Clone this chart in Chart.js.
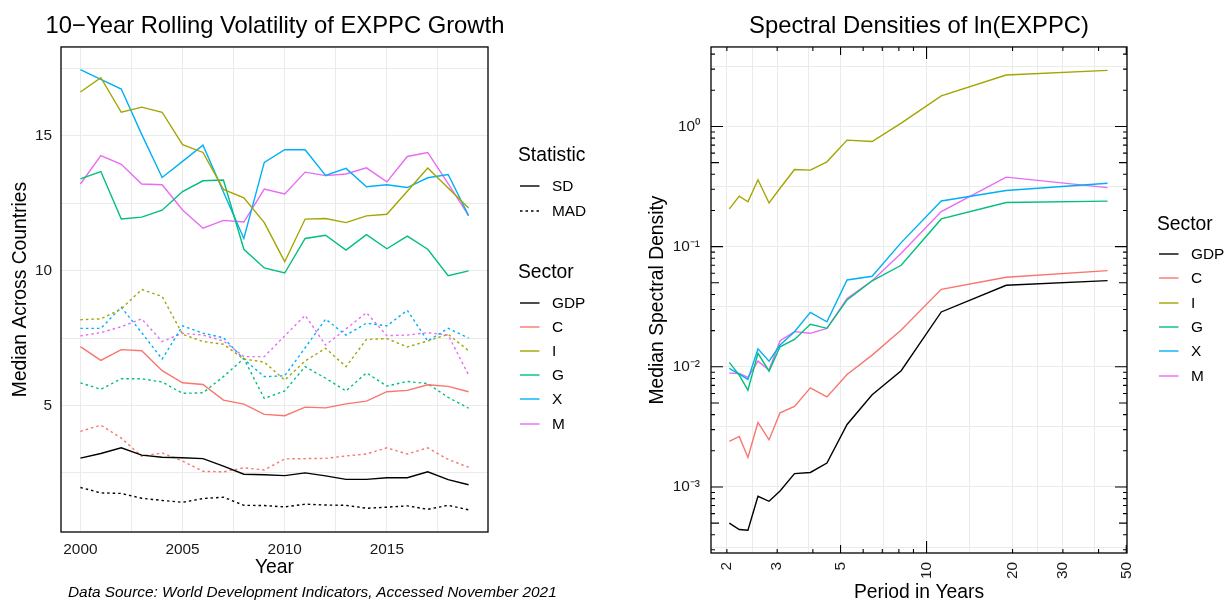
<!DOCTYPE html>
<html>
<head>
<meta charset="utf-8">
<title>EXPPC volatility and spectral densities</title>
<script src="https://cdn.jsdelivr.net/npm/chart.js@4.4.1/dist/chart.umd.min.js"></script>
<style>
  html, body { margin: 0; padding: 0; background: #fff; }
  #wrap { position: relative; width: 1224px; height: 602px; overflow: hidden;
          font-family: 'Liberation Sans', Arial, sans-serif; color: #000; }
  canvas { position: absolute; top: 0; }
  #volChart { left: 0; }
  #specChart { left: 620px; }
  .lg-title { position: absolute; font-size: 19.3px; height: 24px; line-height: 24px; white-space: nowrap; }
  .lg-item { position: absolute; height: 20px; line-height: 20px; font-size: 15.4px; white-space: nowrap; }
  .lg-item svg { position: absolute; left: 0; top: 0; }
  .lg-item span { position: absolute; top: 0; }
  #caption { position: absolute; left: 68px; top: 584px; font-size: 15.4px; line-height: 15.4px;
             font-style: italic; white-space: nowrap; }
</style>
</head>
<body>
<div id="wrap">
  <canvas id="volChart" width="550" height="602"></canvas>
  <canvas id="specChart" width="598" height="602"></canvas>
  <div id="volLegend"></div>
  <div id="specLegend"></div>
  <div id="caption">Data Source: World Development Indicators, Accessed November 2021</div>
</div>
<script>
const FONT = "'Liberation Sans', Arial, sans-serif";
Chart.defaults.font.family = FONT;
Chart.defaults.color = '#000';

// ---- rolling volatility (median across countries) ----
const years = [2000, 2001, 2002, 2003, 2004, 2005, 2006, 2007, 2008, 2009,
               2010, 2011, 2012, 2013, 2014, 2015, 2016, 2017, 2018, 2019];

const sdGDP = [3.05, 3.22, 3.43, 3.16, 3.08, 3.06, 3.03, 2.75, 2.45, 2.43, 2.40, 2.50, 2.39, 2.26, 2.26, 2.32, 2.32, 2.54, 2.25, 2.06];
const sdC   = [7.18, 6.67, 7.07, 7.03, 6.29, 5.84, 5.78, 5.20, 5.05, 4.67, 4.62, 4.94, 4.91, 5.06, 5.16, 5.51, 5.56, 5.77, 5.71, 5.51];
const sdI   = [16.62, 17.15, 15.87, 16.06, 15.87, 14.67, 14.38, 13.01, 12.70, 11.78, 10.33, 11.91, 11.93, 11.78, 12.03, 12.09, 12.94, 13.80, 13.06, 12.32];
const sdG   = [13.40, 13.67, 11.91, 11.98, 12.24, 12.93, 13.33, 13.36, 10.79, 10.10, 9.91, 11.19, 11.31, 10.76, 11.33, 10.81, 11.28, 10.79, 9.81, 9.99];
const sdX   = [17.45, 17.09, 16.73, 15.05, 13.45, 14.05, 14.65, 12.91, 11.19, 14.01, 14.48, 14.48, 13.53, 13.79, 13.11, 13.18, 13.08, 13.44, 13.56, 12.04];
const sdM   = [13.21, 14.26, 13.94, 13.21, 13.18, 12.25, 11.57, 11.86, 11.80, 13.02, 12.84, 13.65, 13.52, 13.58, 13.81, 13.29, 14.23, 14.38, 13.22, 12.04];

const madGDP = [1.96, 1.76, 1.74, 1.56, 1.48, 1.41, 1.55, 1.60, 1.30, 1.29, 1.24, 1.34, 1.31, 1.30, 1.19, 1.23, 1.28, 1.15, 1.30, 1.13];
const madC   = [4.04, 4.27, 3.79, 3.12, 3.24, 2.94, 2.56, 2.54, 2.69, 2.61, 3.02, 3.03, 3.04, 3.13, 3.20, 3.43, 3.20, 3.43, 3.00, 2.71];
const madI   = [8.18, 8.21, 8.58, 9.30, 9.04, 7.64, 7.37, 7.27, 6.72, 6.61, 5.94, 6.65, 7.12, 6.44, 7.45, 7.48, 7.17, 7.39, 7.64, 7.03];
const madG   = [5.84, 5.60, 5.99, 5.99, 5.87, 5.45, 5.47, 6.07, 6.74, 5.26, 5.54, 6.44, 6.01, 5.54, 6.21, 5.72, 5.89, 5.81, 5.30, 4.90];
const madX   = [7.86, 7.86, 8.64, 7.70, 6.72, 7.95, 7.68, 7.51, 6.71, 6.07, 6.10, 7.14, 8.20, 7.61, 8.05, 7.95, 8.53, 7.39, 7.86, 7.50];
const madM   = [7.58, 7.70, 7.92, 8.21, 7.37, 7.68, 7.61, 7.39, 6.81, 6.81, 7.58, 8.34, 7.24, 7.84, 8.44, 7.59, 7.61, 7.70, 7.61, 6.13];

const yearTicks = [2000, 2005, 2010, 2015];
const volTicks = [5, 10, 15];

// ---- spectral densities of ln(EXPPC) ----
const periods = [2.04, 2.21, 2.37, 2.57, 2.81, 3.07, 3.45, 3.92, 4.48, 5.27, 6.45, 8.15, 11.26, 19.0, 43.0];

const specGDP = [0.000500, 0.000442, 0.000436, 0.000836, 0.000760, 0.000926, 0.00129, 0.00132, 0.00158, 0.00331, 0.00585, 0.00927, 0.0286, 0.0477, 0.0521];
const specC   = [0.00240, 0.00263, 0.00176, 0.00344, 0.00247, 0.00414, 0.00468, 0.00668, 0.00562, 0.00864, 0.0125, 0.0202, 0.0441, 0.0556, 0.0631];
const specI   = [0.206, 0.263, 0.236, 0.360, 0.231, 0.306, 0.438, 0.433, 0.508, 0.770, 0.750, 1.067, 1.80, 2.68, 2.93];
const specG   = [0.01088, 0.00853, 0.00640, 0.01294, 0.00920, 0.01468, 0.0169, 0.02256, 0.0209, 0.0360, 0.0520, 0.0700, 0.170, 0.233, 0.239];
const specX   = [0.00970, 0.00869, 0.00785, 0.01413, 0.01115, 0.01517, 0.0196, 0.0284, 0.0237, 0.0528, 0.0567, 0.108, 0.240, 0.293, 0.337];
const specM   = [0.00886, 0.00879, 0.00816, 0.01115, 0.00939, 0.0165, 0.0196, 0.0190, 0.0209, 0.0370, 0.0520, 0.0880, 0.196, 0.379, 0.310];

const periodTicks = [2, 3, 5, 10, 20, 30, 50];
const densityTicks = [0.001, 0.01, 0.1, 1];

const sectors = ['GDP', 'C', 'I', 'G', 'X', 'M'];
const statistics = ['SD', 'MAD'];

// styling
const sectorColors = ['#000000', '#F8766D', '#A3A500', '#00BF7D', '#00B0F6', '#E76BF3'];
const statDash = [[], [2.5, 3]];
const GRID = '#EBEBEB';
const TICK_FONT = { size: 15.4 };
const TITLE_FONT = { size: 19.3 };

function lineSet(label, xs, ys, color, dash) {
  return {
    label,
    data: xs.map((x, i) => ({ x, y: ys[i] })),
    xAxisID: 'x',
    yAxisID: 'y',
    borderColor: color,
    backgroundColor: color,
    borderWidth: 1.4,
    borderDash: dash,
    pointRadius: 0,
    tension: 0,
    fill: false
  };
}

// ggplot-style minor breaks: halfway between majors (linear) or geometric midpoints (log)
function linearBreaks(majors, min, max) {
  const step = majors[1] - majors[0];
  const all = majors.slice();
  majors.forEach(v => { all.push(v - step / 2); all.push(v + step / 2); });
  return [...new Set(all)].filter(v => v >= min && v <= max).sort((a, b) => a - b);
}
function logBreaks(majors, min, max, outerRatio) {
  const all = majors.slice();
  for (let i = 0; i < majors.length - 1; i++) all.push(Math.sqrt(majors[i] * majors[i + 1]));
  if (outerRatio) {
    all.push(majors[0] / outerRatio);
    all.push(majors[majors.length - 1] * outerRatio);
  }
  return all.filter(v => v >= min && v <= max).sort((a, b) => a - b);
}
const isIn = (list, v) => list.some(t => Math.abs(t - v) < 1e-9 * Math.max(1, Math.abs(t)));

const SUP = { '-': '\u207B', '0': '\u2070', '1': '\u00B9', '2': '\u00B2', '3': '\u00B3', '4': '\u2074',
              '5': '\u2075', '6': '\u2076', '7': '\u2077', '8': '\u2078', '9': '\u2079' };
function powerLabel(v) {
  const e = Math.round(Math.log10(v));
  return '10' + String(e).split('').map(c => SUP[c]).join('');
}

// empty right-hand axis that reserves the legend gutter, so the title centres on the panel
const gutter = width => ({
  axis: 'y', type: 'linear', position: 'right', display: true,
  grid: { display: false, drawTicks: false },
  border: { display: false },
  ticks: { display: false },
  afterFit: s => { s.width = width; }
});

// panel border, plus log tick marks on all four sides when asked
const panelFrame = {
  id: 'panelFrame',
  afterDatasetsDraw(chart, args, opts) {
    const { ctx, chartArea: a } = chart;
    ctx.save();
    ctx.strokeStyle = '#000';
    if (opts.logTicks) {
      const { x, y } = chart.scales;
      const len = m => (m === 1 ? 12 : m === 5 ? 8 : 4);
      ctx.lineWidth = 1.1;
      ctx.beginPath();
      for (let k = -5; k <= 2; k++) {
        for (let m = 1; m <= 9; m++) {
          const v = m * Math.pow(10, k);
          if (v >= y.min && v <= y.max) {
            const py = y.getPixelForValue(v);
            ctx.moveTo(a.left, py); ctx.lineTo(a.left + len(m), py);
            ctx.moveTo(a.right, py); ctx.lineTo(a.right - len(m), py);
          }
          if (v >= x.min && v <= x.max) {
            const px = x.getPixelForValue(v);
            ctx.moveTo(px, a.bottom); ctx.lineTo(px, a.bottom - len(m));
            ctx.moveTo(px, a.top); ctx.lineTo(px, a.top + len(m));
          }
        }
      }
      ctx.stroke();
    }
    ctx.lineWidth = 1.3;
    ctx.strokeRect(a.left, a.top, a.right - a.left, a.bottom - a.top);
    ctx.restore();
  }
};

const titleOpts = text => ({
  display: true, text, color: '#000',
  font: { size: 23.8, weight: 'normal' },
  padding: { top: 12, bottom: 6.4 }
});

// ---- left chart ----
const volXRange = { min: 1999.05, max: 2019.95 };
const volYRange = { min: 0.31, max: 18.29 };
const volXBreaks = linearBreaks(yearTicks, volXRange.min, volXRange.max);
const volYBreaks = linearBreaks(volTicks, volYRange.min, volYRange.max);

const volDatasets = [];
statistics.forEach((st, si) => {
  const values = si === 0 ? [sdGDP, sdC, sdI, sdG, sdX, sdM] : [madGDP, madC, madI, madG, madX, madM];
  sectors.forEach((s, i) => volDatasets.push(lineSet(s + ' ' + st, years, values[i], sectorColors[i], statDash[si])));
});

new Chart(document.getElementById('volChart'), {
  type: 'line',
  data: { datasets: volDatasets },
  plugins: [panelFrame],
  options: {
    responsive: false, animation: false, events: [], devicePixelRatio: 1,
    layout: { padding: 0 },
    plugins: {
      legend: { display: false },
      tooltip: { enabled: false },
      title: titleOpts('10\u2212Year Rolling Volatility of EXPPC Growth'),
      panelFrame: { logTicks: false }
    },
    scales: {
      x: {
        type: 'linear', min: volXRange.min, max: volXRange.max,
        afterBuildTicks: s => { s.ticks = volXBreaks.map(v => ({ value: v })); },
        afterFit: s => { s.height = 70; },
        grid: { color: GRID, lineWidth: 1, drawTicks: false },
        border: { display: false },
        ticks: { autoSkip: false, maxRotation: 0, minRotation: 0, padding: 8.5, font: TICK_FONT, color: '#1a1a1a',
                 callback: v => (isIn(yearTicks, v) ? String(v) : '') },
        title: { display: true, text: 'Year', font: TITLE_FONT, color: '#000', padding: { top: 0, bottom: 23 } }
      },
      y: {
        type: 'linear', min: volYRange.min, max: volYRange.max,
        afterBuildTicks: s => { s.ticks = volYBreaks.map(v => ({ value: v })); },
        afterFit: s => { s.width = 61; },
        grid: { color: GRID, lineWidth: 1, drawTicks: false },
        border: { display: false },
        ticks: { autoSkip: false, padding: 9, font: TICK_FONT, color: '#1a1a1a',
                 callback: v => (isIn(volTicks, v) ? String(v) : '') },
        title: { display: true, text: 'Median Across Countries', font: TITLE_FONT, color: '#000', padding: { top: 9.5, bottom: 0 } }
      },
      gutter: gutter(62)
    }
  }
});

// ---- right chart ----
const specXRange = { min: 1.76, max: 50.3 };
const specYRange = { min: 2.82e-4, max: 4.59 };
const specXBreaks = logBreaks(periodTicks, specXRange.min, specXRange.max, 0);
const specYBreaks = logBreaks(densityTicks, specYRange.min, specYRange.max, Math.sqrt(10));

const specValues = [specGDP, specC, specI, specG, specX, specM];
const specDatasets = sectors.map((s, i) => lineSet(s, periods, specValues[i], sectorColors[i], []));

new Chart(document.getElementById('specChart'), {
  type: 'line',
  data: { datasets: specDatasets },
  plugins: [panelFrame],
  options: {
    responsive: false, animation: false, events: [], devicePixelRatio: 1,
    layout: { padding: 0 },
    plugins: {
      legend: { display: false },
      tooltip: { enabled: false },
      title: titleOpts('Spectral Densities of ln(EXPPC)'),
      panelFrame: { logTicks: true }
    },
    scales: {
      x: {
        type: 'logarithmic', min: specXRange.min, max: specXRange.max,
        afterBuildTicks: s => { s.ticks = specXBreaks.map(v => ({ value: v })); },
        afterFit: s => { s.height = 49; },
        grid: { color: GRID, lineWidth: 1, drawTicks: false },
        border: { display: false },
        ticks: { autoSkip: false, maxRotation: 90, minRotation: 90, padding: 9, font: TICK_FONT, color: '#1a1a1a',
                 callback: v => (isIn(periodTicks, v) ? String(v) : '') },
        title: { display: true, text: 'Period in Years', font: TITLE_FONT, color: '#000', padding: { top: 0, bottom: -2 } }
      },
      y: {
        type: 'logarithmic', min: specYRange.min, max: specYRange.max,
        afterBuildTicks: s => { s.ticks = specYBreaks.map(v => ({ value: v })); },
        afterFit: s => { s.width = 91; },
        grid: { color: GRID, lineWidth: 1, drawTicks: false },
        border: { display: false },
        ticks: { autoSkip: false, padding: 11, font: TICK_FONT, color: '#1a1a1a',
                 callback: v => (isIn(densityTicks, v) ? powerLabel(v) : '') },
        title: { display: true, text: 'Median Spectral Density', font: TITLE_FONT, color: '#000', padding: { top: 26.5, bottom: 0 } }
      },
      gutter: gutter(91)
    }
  }
});

// ---- legends ----
function addLegendGroup(parent, title, left, titleY, items, firstY, step) {
  const t = document.createElement('div');
  t.className = 'lg-title';
  t.textContent = title;
  t.style.left = left + 'px';
  t.style.top = (titleY - 12) + 'px';
  parent.appendChild(t);
  items.forEach((it, i) => {
    const row = document.createElement('div');
    row.className = 'lg-item';
    row.style.left = (left + 2) + 'px';
    row.style.top = (firstY + step * i - 10) + 'px';
    const dash = it.dash.length ? ` stroke-dasharray="${it.dash.join(' ')}"` : '';
    row.innerHTML = `<svg width="20" height="20"><line x1="0" y1="10" x2="19.5" y2="10" stroke="${it.color}" stroke-width="1.4"${dash}/></svg>` +
                    `<span style="left:32px">${it.label}</span>`;
    parent.appendChild(row);
  });
}

const sectorItems = sectors.map((s, i) => ({ label: s, color: sectorColors[i], dash: [] }));
const statItems = statistics.map((s, i) => ({ label: s, color: '#000', dash: statDash[i] }));

const volLegend = document.getElementById('volLegend');
addLegendGroup(volLegend, 'Statistic', 518, 155, statItems, 185.5, 25);
addLegendGroup(volLegend, 'Sector', 518, 272, sectorItems, 303, 24.1);
addLegendGroup(document.getElementById('specLegend'), 'Sector', 1157, 224, sectorItems, 254, 24.35);
</script>
</body>
</html>
